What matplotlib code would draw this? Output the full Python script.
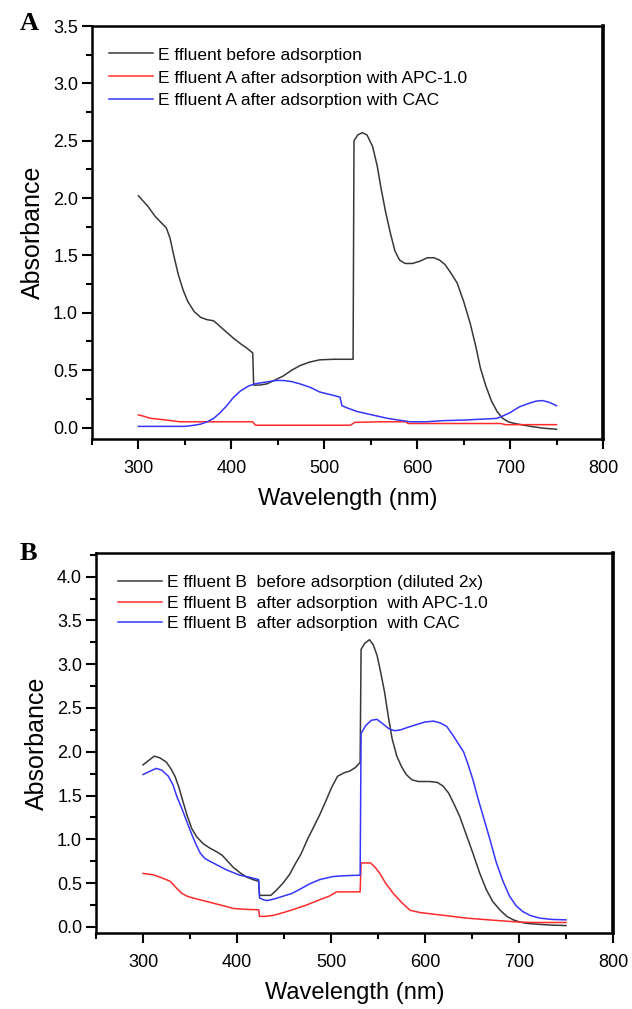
import numpy as np
import matplotlib
matplotlib.use("Agg")
import matplotlib.pyplot as plt
from matplotlib.ticker import MultipleLocator

plt.rcParams['font.family'] = ['Liberation Sans', 'DejaVu Sans']

# Panel A: effluent A spectra
a_black_wl = [300, 310, 318, 324, 330, 334, 338, 343, 348, 353, 360, 367, 374, 381, 388, 395,
              402, 410, 417, 423, 424, 430, 438, 446, 456, 465, 474, 484, 495, 510, 531, 532,
              536, 541, 546, 552, 557, 561, 566, 571, 576, 581, 587, 595, 603, 611, 618, 624,
              630, 636, 643, 650, 657, 663, 668, 674, 680, 686, 692, 698, 705, 712, 722, 735, 750]
a_black_abs = [2.02, 1.93, 1.84, 1.79, 1.74, 1.65, 1.50, 1.33, 1.20, 1.10, 1.01, 0.96, 0.94, 0.93,
               0.88, 0.83, 0.78, 0.73, 0.69, 0.65, 0.37, 0.37, 0.38, 0.41, 0.45, 0.50, 0.54, 0.57,
               0.59, 0.595, 0.595, 2.50, 2.55, 2.57, 2.55, 2.45, 2.28, 2.09, 1.88, 1.70, 1.54,
               1.46, 1.43, 1.43, 1.45, 1.48, 1.48, 1.46, 1.42, 1.35, 1.26, 1.10, 0.91, 0.71, 0.52,
               0.36, 0.23, 0.14, 0.08, 0.05, 0.035, 0.025, 0.01, -0.005, -0.015]

a_red_wl = [300, 305, 313, 325, 335, 345, 360, 380, 400, 423, 426, 450, 480, 500, 528, 533,
            560, 588, 590, 620, 650, 690, 695, 720, 750]
a_red_abs = [0.11, 0.10, 0.08, 0.07, 0.06, 0.05, 0.05, 0.05, 0.05, 0.05, 0.02, 0.02, 0.02, 0.02,
             0.02, 0.045, 0.05, 0.05, 0.035, 0.035, 0.035, 0.035, 0.025, 0.025, 0.025]

a_blue_wl = [300, 320, 350, 360, 367, 374, 381, 388, 395, 402, 410, 418, 425, 432, 440, 448,
             456, 465, 474, 485, 495, 505, 517, 519, 525, 535, 546, 557, 568, 580, 592, 610,
             628, 650, 675, 686, 692, 700, 710, 720, 728, 735, 742, 750]
a_blue_abs = [0.01, 0.01, 0.01, 0.02, 0.03, 0.05, 0.08, 0.13, 0.19, 0.26, 0.32, 0.36, 0.38, 0.39,
              0.40, 0.41, 0.41, 0.40, 0.38, 0.35, 0.31, 0.29, 0.265, 0.19, 0.17, 0.14, 0.12, 0.10,
              0.08, 0.065, 0.05, 0.05, 0.06, 0.065, 0.075, 0.08, 0.10, 0.13, 0.18, 0.21, 0.23,
              0.235, 0.22, 0.19]

# Panel B: effluent B spectra
b_black_wl = [300, 306, 312, 318, 325, 330, 334, 338, 342, 347, 352, 357, 364, 371, 378, 384,
              390, 396, 403, 410, 417, 423, 424, 430, 436, 442, 449, 456, 462, 468, 475, 482,
              488, 495, 501, 507, 514, 520, 526, 531, 532, 536, 541, 545, 549, 553, 557, 561,
              565, 570, 575, 580, 586, 593, 605, 613, 619, 625, 631, 637, 644, 651, 658, 665,
              672, 680, 687, 694, 701, 708, 720, 735, 750]
b_black_abs = [1.85, 1.90, 1.95, 1.93, 1.88, 1.80, 1.72, 1.60, 1.45, 1.27, 1.12, 1.03, 0.95, 0.90,
               0.86, 0.82, 0.75, 0.68, 0.62, 0.57, 0.54, 0.52, 0.36, 0.36, 0.36, 0.42, 0.50, 0.60,
               0.72, 0.83, 1.00, 1.15, 1.28, 1.45, 1.60, 1.72, 1.76, 1.78, 1.82, 1.88, 3.17, 3.24,
               3.28, 3.22, 3.10, 2.90, 2.68, 2.40, 2.15, 1.95, 1.83, 1.74, 1.68, 1.66, 1.66, 1.65,
               1.61, 1.53, 1.40, 1.26, 1.05, 0.84, 0.62, 0.43, 0.29, 0.19, 0.12, 0.08, 0.055,
               0.04, 0.03, 0.02, 0.015]

b_red_wl = [300, 311, 320, 329, 335, 341, 347, 353, 364, 375, 386, 396, 410, 423, 424, 430,
            438, 445, 453, 463, 474, 488, 498, 506, 520, 531, 532, 538, 542, 547, 552, 558,
            566, 575, 584, 594, 605, 625, 644, 662, 680, 700, 715, 750]
b_red_abs = [0.61, 0.595, 0.56, 0.52, 0.45, 0.385, 0.35, 0.33, 0.30, 0.27, 0.24, 0.21, 0.20,
             0.195, 0.12, 0.12, 0.13, 0.15, 0.175, 0.21, 0.25, 0.31, 0.35, 0.40, 0.40, 0.40,
             0.73, 0.73, 0.73, 0.68, 0.61, 0.50, 0.385, 0.28, 0.19, 0.165, 0.15, 0.125, 0.10,
             0.085, 0.07, 0.055, 0.05, 0.05]

b_blue_wl = [300, 306, 314, 320, 327, 332, 336, 341, 346, 351, 356, 361, 366, 371, 380, 389,
             396, 403, 412, 423, 424, 428, 432, 440, 449, 458, 467, 477, 488, 502, 516, 531,
             532, 537, 543, 549, 555, 562, 568, 574, 582, 591, 600, 609, 616, 623, 629, 635,
             641, 646, 651, 656, 662, 669, 676, 683, 690, 697, 704, 712, 722, 735, 750]
b_blue_abs = [1.74, 1.77, 1.81, 1.79, 1.72, 1.62, 1.49, 1.36, 1.22, 1.08, 0.95, 0.84, 0.78, 0.75,
              0.70, 0.65, 0.62, 0.59, 0.57, 0.54, 0.33, 0.31, 0.30, 0.32, 0.35, 0.38, 0.43, 0.49,
              0.54, 0.575, 0.585, 0.59, 2.21, 2.30, 2.36, 2.37, 2.32, 2.26, 2.24, 2.25, 2.28,
              2.31, 2.34, 2.35, 2.33, 2.29, 2.20, 2.10, 2.00, 1.85, 1.68, 1.48, 1.26, 1.00, 0.73,
              0.52, 0.35, 0.24, 0.175, 0.13, 0.10, 0.085, 0.08]

labels_a = ['E ffluent before adsorption',
            'E ffluent A after adsorption with APC-1.0',
            'E ffluent A after adsorption with CAC']
labels_b = ['E ffluent B  before adsorption (diluted 2x)',
            'E ffluent B  after adsorption  with APC-1.0',
            'E ffluent B  after adsorption  with CAC']

black, red, blue = '#383838', '#ff2b2b', '#3535ff'

W, H = 632, 1009
fig = plt.figure(figsize=(W / 100, H / 100), dpi=100)


def make_axes(left, top, right, bottom):
    return fig.add_axes([left / W, 1 - bottom / H, (right - left) / W, (bottom - top) / H])


def style(ax, ylim, ymax_tick):
    ax.set_xlim(250, 800)
    ax.set_ylim(*ylim)
    ax.xaxis.set_major_locator(MultipleLocator(100))
    ax.xaxis.set_minor_locator(MultipleLocator(50))
    ax.set_yticks(np.arange(0, ymax_tick + 0.01, 0.5))
    ax.yaxis.set_minor_locator(MultipleLocator(0.25))
    ax.tick_params(which='major', direction='out', length=7, width=1.5, labelsize=13)
    ax.tick_params(which='minor', direction='out', length=4, width=1.5)
    ax.tick_params(axis='x', pad=8)
    ax.tick_params(axis='y', pad=3)
    ax.yaxis.set_major_formatter(matplotlib.ticker.FormatStrFormatter('%.1f'))
    for s in ax.spines.values():
        s.set_linewidth(1.8)
    ax.spines['right'].set_linewidth(2.6)
    ax.set_xlabel('Wavelength (nm)', fontsize=17, labelpad=8)
    ax.set_ylabel('Absorbance', fontsize=18, labelpad=6)


# Panel A
ax1 = make_axes(92, 26, 603, 439)
ax1.plot(a_black_wl, a_black_abs, color=black, lw=1.1, label=labels_a[0])
ax1.plot(a_red_wl, a_red_abs, color=red, lw=1.1, label=labels_a[1])
ax1.plot(a_blue_wl, a_blue_abs, color=blue, lw=1.1, label=labels_a[2])
style(ax1, (-0.1, 3.5), 3.5)
ax1.legend(loc='upper left', bbox_to_anchor=(0.02, 0.965), frameon=False, fontsize=12.5,
           handlelength=2.5, handletextpad=0.3, labelspacing=0.45, borderaxespad=0)

# Panel B
ax2 = make_axes(96, 553, 613, 933)
ax2.plot(b_black_wl, b_black_abs, color=black, lw=1.1, label=labels_b[0])
ax2.plot(b_red_wl, b_red_abs, color=red, lw=1.1, label=labels_b[1])
ax2.plot(b_blue_wl, b_blue_abs, color=blue, lw=1.1, label=labels_b[2])
style(ax2, (-0.07, 4.27), 4.0)
ax2.legend(loc='upper left', bbox_to_anchor=(0.03, 0.96), frameon=False, fontsize=12.5,
           handlelength=2.5, handletextpad=0.3, labelspacing=0.3, borderaxespad=0)

fig.text(20 / W, 1 - 30 / H, 'A', fontsize=19, fontweight='bold', family='Liberation Serif')
fig.text(20 / W, 1 - 560 / H, 'B', fontsize=19, fontweight='bold', family='Liberation Serif')

fig.savefig('out.png', dpi=100)
